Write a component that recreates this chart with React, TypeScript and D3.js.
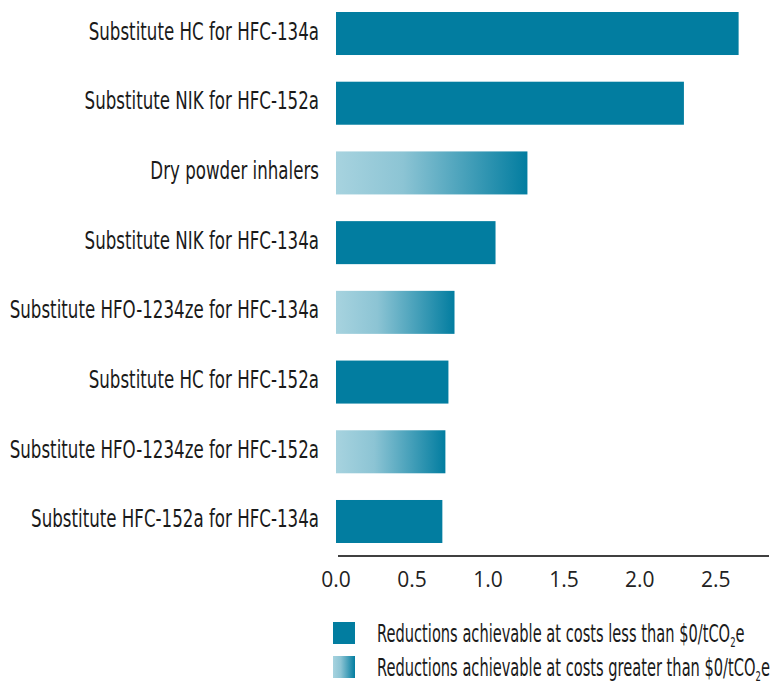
import React from "react";
import * as d3 from "d3";

const categories = [
  "Substitute HC for HFC-134a",
  "Substitute NIK for HFC-152a",
  "Dry powder inhalers",
  "Substitute NIK for HFC-134a",
  "Substitute HFO-1234ze for HFC-134a",
  "Substitute HC for HFC-152a",
  "Substitute HFO-1234ze for HFC-152a",
  "Substitute HFC-152a for HFC-134a",
];
const values = [2.65, 2.29, 1.26, 1.05, 0.78, 0.74, 0.72, 0.7];
const costType = ["less", "less", "greater", "less", "greater", "less", "greater", "less"];
const tickValues = [0, 0.5, 1.0, 1.5, 2.0, 2.5];
const legendLabels = [
  "Reductions achievable at costs less than $0/tCO",
  "Reductions achievable at costs greater than $0/tCO",
];

const SOLID = "#027da0";
const LIGHT = "#a7d3df";
const FONT = "'DejaVu Sans', sans-serif";
const SX = 0.695;
const LSX = 0.61;

export default function App() {
  const W = 772;
  const H = 681;
  const x = d3.scaleLinear().domain([0, 2.85]).range([336, 769]);
  const y = d3.scaleBand<string>().domain(categories).range([12, 543]).paddingInner(0.383).paddingOuter(0);
  const axisY = 556;

  return (
    <svg
      width={W}
      height={H}
      style={{ position: "absolute", left: 0, top: 0, display: "block", background: "#fff" }}
    >
      <defs>
        <linearGradient id="grad" x1="0" x2="1" y1="0" y2="0">
          <stop offset="0%" stopColor={LIGHT} />
          <stop offset="35%" stopColor="#8cc4d4" />
          <stop offset="100%" stopColor={SOLID} />
        </linearGradient>
      </defs>
      {categories.map((c, i) => (
        <g key={c}>
          <rect
            x={x(0)}
            y={y(c)}
            width={x(values[i]) - x(0)}
            height={y.bandwidth()}
            fill={costType[i] === "less" ? SOLID : "url(#grad)"}
          />
          <text
            transform={`translate(319,${(y(c) as number) + y.bandwidth() / 2 + 6}) scale(${SX},1)`}
            textAnchor="end"
            fontFamily={FONT}
            fontSize={24}
            fill="#1a1a1a"
          >
            {c}
          </text>
        </g>
      ))}
      <line x1={338} x2={769} y1={axisY} y2={axisY} stroke="#000" strokeWidth={1.3} />
      {tickValues.map((t) => (
        <text
          key={t}
          x={x(t)}
          y={587}
          textAnchor="middle"
          fontFamily="'Open Sans', sans-serif"
          fontSize={21}
          fill="#222"
        >
          {t.toFixed(1)}
        </text>
      ))}
      {legendLabels.map((l, i) => (
        <g key={l}>
          <rect
            x={333}
            y={622 + i * 34}
            width={22}
            height={22}
            fill={i === 0 ? SOLID : "url(#grad)"}
          />
          <text
            transform={`translate(377,${642 + i * 34}) scale(${LSX},1)`}
            fontFamily={FONT}
            fontSize={24}
            fill="#1a1a1a"
          >
            {l}
            <tspan fontSize={14} dy={5}>2</tspan>
            <tspan dy={-5}>e</tspan>
          </text>
        </g>
      ))}
    </svg>
  );
}
